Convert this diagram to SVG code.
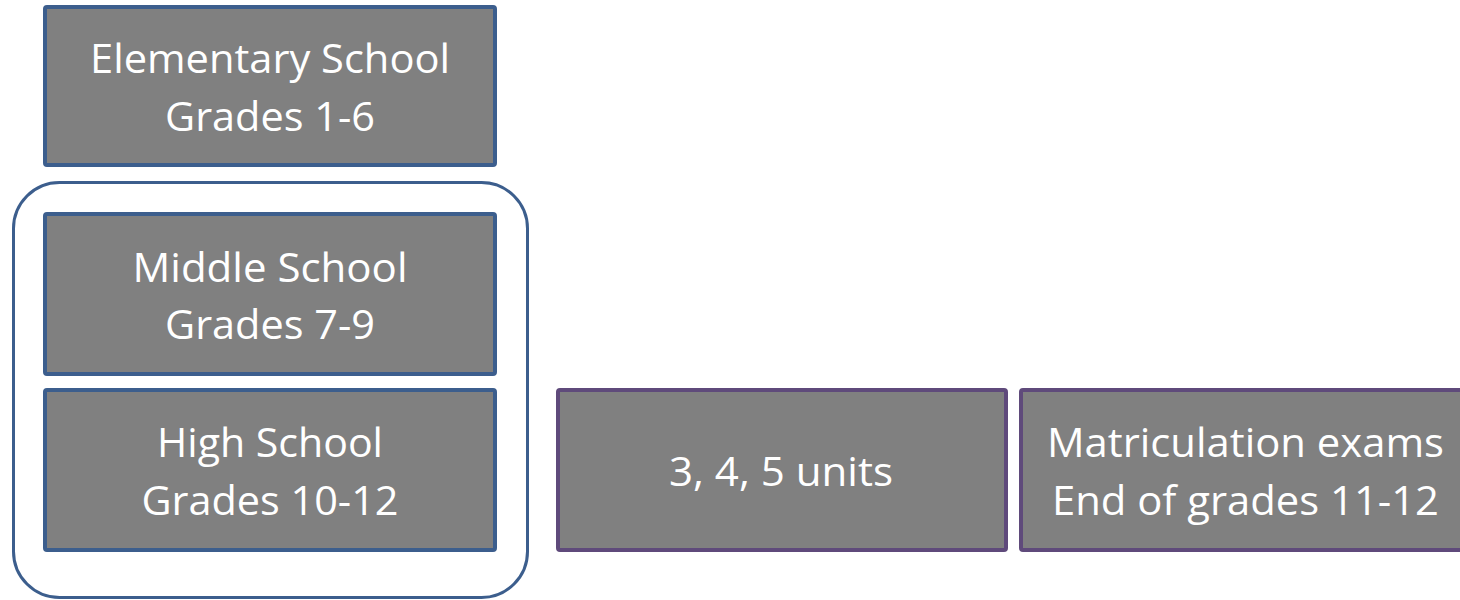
<svg xmlns="http://www.w3.org/2000/svg" width="1460" height="600" viewBox="0 0 1460 600">
<style>
.box{fill:#808080;stroke-width:4;}
.blue{stroke:#3C5E8D;}
.purple{stroke:#5F4A7B;}
.t{font-family:"Open Sans","Liberation Sans",sans-serif;font-size:41px;fill:#ffffff;text-anchor:middle;}
</style>
<rect width="1460" height="600" fill="#ffffff"/>
<g id="group-outline">
<rect x="13.5" y="182.5" width="514" height="415" rx="46" ry="46" fill="none" stroke="#3C5E8D" stroke-width="3"/>
</g>
<g id="elementary">
<rect class="box blue" x="45" y="7" width="450" height="158" rx="2"/>
<text class="t" x="270" y="73" textLength="360" lengthAdjust="spacingAndGlyphs">Elementary School</text>
<text class="t" x="270" y="131" textLength="210" lengthAdjust="spacingAndGlyphs">Grades 1-6</text>
</g>
<g id="middle">
<rect class="box blue" x="45" y="214" width="450" height="160" rx="2"/>
<text class="t" x="270" y="282" textLength="275" lengthAdjust="spacingAndGlyphs">Middle School</text>
<text class="t" x="270" y="339" textLength="210" lengthAdjust="spacingAndGlyphs">Grades 7-9</text>
</g>
<g id="high">
<rect class="box blue" x="45" y="390" width="450" height="160" rx="2"/>
<text class="t" x="270" y="457" textLength="226" lengthAdjust="spacingAndGlyphs">High School</text>
<text class="t" x="270" y="515" textLength="257" lengthAdjust="spacingAndGlyphs">Grades 10-12</text>
</g>
<g id="units">
<rect class="box purple" x="558" y="390" width="448" height="160" rx="2"/>
<text class="t" x="781" y="486" textLength="224" lengthAdjust="spacingAndGlyphs">3, 4, 5 units</text>
</g>
<g id="matriculation">
<rect class="box purple" x="1021" y="390" width="450" height="160" rx="2"/>
<text class="t" x="1245.5" y="457" textLength="397" lengthAdjust="spacingAndGlyphs">Matriculation exams</text>
<text class="t" x="1245.5" y="515" textLength="387" lengthAdjust="spacingAndGlyphs">End of grades 11-12</text>
</g>
<g id="connectors"></g>
</svg>
